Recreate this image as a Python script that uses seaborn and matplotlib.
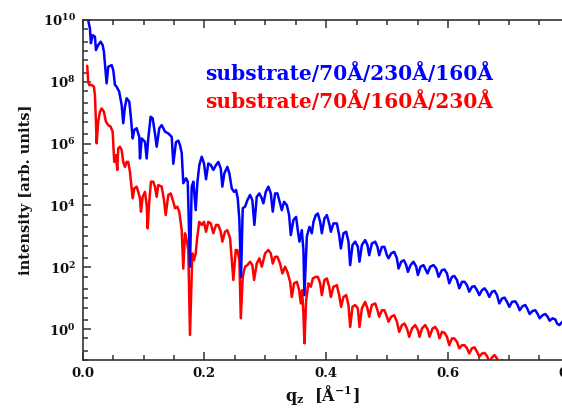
import numpy as np
import pandas as pd
import matplotlib
matplotlib.use('Agg')
import matplotlib.pyplot as plt
import matplotlib.ticker as mticker
import seaborn as sns

# --- data (q in 1/A, log10 of intensity) ---
blue_label = 'substrate/70Å/230Å/160Å'
red_label = 'substrate/70Å/160Å/230Å'

blue_q = [0.006, 0.009, 0.012, 0.0136, 0.0164, 0.0202, 0.0219, 0.0256, 0.0296, 0.0329,
          0.035, 0.0394, 0.0421, 0.0477, 0.0503, 0.0531, 0.0559, 0.0601, 0.0641, 0.0667,
          0.0695, 0.0723, 0.0766, 0.0789, 0.0822, 0.0848, 0.0887, 0.093, 0.0942, 0.097,
          0.1024, 0.1052, 0.1078, 0.1117, 0.115, 0.1188, 0.1216, 0.1259, 0.1298, 0.1353,
          0.1407, 0.1463, 0.1489, 0.1533, 0.1571, 0.1599, 0.1627, 0.1653, 0.1698, 0.1726,
          0.1763, 0.1791, 0.1818, 0.1857, 0.1883, 0.1916, 0.1956, 0.1993, 0.2026, 0.2064,
          0.2104, 0.2146, 0.2191, 0.2228, 0.2268, 0.2294, 0.2327, 0.2376, 0.2409, 0.2449,
          0.2486, 0.2519, 0.2547, 0.2574, 0.2601, 0.2629, 0.2667, 0.2705, 0.2749, 0.2787,
          0.282, 0.2859, 0.2902, 0.2942, 0.2968, 0.3007, 0.305, 0.309, 0.3122, 0.316,
          0.3198, 0.3242, 0.327, 0.3308, 0.3353, 0.339, 0.3418, 0.3461, 0.3505, 0.3533,
          0.356, 0.3599, 0.3625, 0.3642, 0.3681, 0.3724, 0.3763, 0.379, 0.3829, 0.3862,
          0.39, 0.3928, 0.397, 0.401, 0.4048, 0.4076, 0.4118, 0.4174, 0.4212, 0.424,
          0.4283, 0.4327, 0.4365, 0.4393, 0.4431, 0.4475, 0.4519, 0.4546, 0.4585, 0.4639,
          0.4677, 0.4705, 0.4749, 0.4804, 0.4841, 0.4869, 0.4914, 0.4956, 0.4996, 0.5022,
          0.5067, 0.5116, 0.516, 0.5187, 0.5231, 0.5275, 0.5313, 0.5341, 0.5384, 0.5433,
          0.5477, 0.5505, 0.5548, 0.5597, 0.5637, 0.5663, 0.5708, 0.5762, 0.5806, 0.5844,
          0.59, 0.5942, 0.5982, 0.602, 0.6064, 0.6102, 0.6146, 0.6184, 0.6229, 0.6271,
          0.6311, 0.6348, 0.6393, 0.6435, 0.6475, 0.6513, 0.6557, 0.66, 0.6639, 0.6677,
          0.6721, 0.6764, 0.6804, 0.6841, 0.6886, 0.6928, 0.6968, 0.7006, 0.705, 0.7104,
          0.7142, 0.7175, 0.7224, 0.7269, 0.7306, 0.7339, 0.7389, 0.7433, 0.7471, 0.7504,
          0.7553, 0.7597, 0.7635, 0.7668, 0.7717, 0.7762, 0.779, 0.7827, 0.7877, 0.7943]
blue_log = [10.6, 10.0, 9.73, 9.25, 9.51, 9.46, 9.03, 9.19, 9.30, 9.19,
            8.97, 7.95, 8.49, 8.54, 8.38, 7.90, 7.84, 7.68, 7.25, 6.66,
            7.19, 7.47, 7.36, 6.93, 6.17, 6.44, 6.50, 6.22, 5.52, 6.17,
            6.06, 5.52, 6.17, 6.87, 6.82, 6.33, 5.90, 6.50, 6.60, 6.39,
            6.33, 6.22, 5.35, 6.05, 6.10, 5.95, 5.70, 4.72, 4.88, 4.77,
            2.02, 4.61, 4.77, 3.85, 4.72, 5.31, 5.58, 5.36, 4.85, 5.36,
            5.31, 5.15, 5.31, 5.41, 5.20, 4.61, 5.04, 5.25, 5.04, 4.55,
            4.44, 4.50, 4.23, 3.53, 1.69, 3.91, 3.96, 4.17, 4.34, 4.17,
            3.37, 4.28, 4.39, 4.23, 4.07, 4.44, 4.61, 4.39, 3.80, 4.39,
            4.39, 4.07, 3.85, 4.12, 4.01, 3.69, 3.04, 3.53, 3.63, 3.20,
            2.83, 3.20, 2.56, 1.10, 2.99, 3.31, 3.10, 3.47, 3.69, 3.74,
            3.47, 3.10, 3.58, 3.69, 3.42, 3.15, 3.42, 3.42, 3.04, 2.61,
            3.10, 3.15, 2.83, 2.07, 2.72, 2.83, 2.66, 2.18, 2.72, 2.88,
            2.72, 2.39, 2.77, 2.83, 2.66, 2.39, 2.66, 2.66, 2.39, 2.29,
            2.45, 2.50, 2.29, 1.96, 2.18, 2.23, 2.07, 1.85, 2.07, 2.18,
            2.02, 1.75, 2.02, 2.07, 1.91, 1.80, 2.02, 2.07, 1.96, 1.69,
            1.91, 1.93, 1.80, 1.48, 1.69, 1.72, 1.59, 1.32, 1.53, 1.53,
            1.42, 1.21, 1.37, 1.39, 1.26, 1.10, 1.26, 1.32, 1.21, 1.04,
            1.21, 1.24, 1.10, 0.83, 0.99, 1.02, 0.88, 0.72, 0.88, 0.90,
            0.78, 0.61, 0.74, 0.78, 0.64, 0.49, 0.59, 0.61, 0.49, 0.35,
            0.45, 0.49, 0.40, 0.27, 0.35, 0.31, 0.18, 0.13, 0.24, 0.15]

red_q = [0.0076, 0.0092, 0.0108, 0.0148, 0.0186, 0.0202, 0.0219, 0.023, 0.0256, 0.0284,
         0.0312, 0.035, 0.0383, 0.0421, 0.046, 0.0493, 0.0503, 0.0519, 0.0547, 0.0569,
         0.0585, 0.0613, 0.0641, 0.0667, 0.0695, 0.0723, 0.0749, 0.0777, 0.0805, 0.0822,
         0.0848, 0.0887, 0.0914, 0.0942, 0.0958, 0.0986, 0.1024, 0.1052, 0.1068, 0.1094,
         0.1122, 0.116, 0.1188, 0.1216, 0.1242, 0.1298, 0.1336, 0.1364, 0.1407, 0.1446,
         0.1489, 0.1517, 0.1555, 0.1587, 0.1627, 0.1653, 0.1681, 0.1709, 0.1735, 0.1763,
         0.1801, 0.1829, 0.1857, 0.1883, 0.1916, 0.1956, 0.1993, 0.2026, 0.2064, 0.2104,
         0.2146, 0.2191, 0.2228, 0.2268, 0.2294, 0.2338, 0.2376, 0.2421, 0.2449, 0.2475,
         0.2514, 0.2541, 0.2574, 0.2597, 0.2629, 0.2667, 0.2705, 0.2749, 0.2787, 0.2815,
         0.2859, 0.2902, 0.2942, 0.2996, 0.305, 0.309, 0.3122, 0.316, 0.3198, 0.3242,
         0.328, 0.3324, 0.3362, 0.3407, 0.3434, 0.3472, 0.3517, 0.3555, 0.3583, 0.3604,
         0.3625, 0.3642, 0.367, 0.3707, 0.3747, 0.378, 0.3829, 0.3862, 0.39, 0.3928,
         0.397, 0.401, 0.4048, 0.4076, 0.4118, 0.4174, 0.4212, 0.4244, 0.4283, 0.4327,
         0.4365, 0.4393, 0.4431, 0.4475, 0.4519, 0.4546, 0.4585, 0.4639, 0.4677, 0.4705,
         0.4749, 0.4804, 0.4841, 0.4869, 0.4914, 0.4956, 0.4996, 0.5022, 0.5067, 0.5116,
         0.516, 0.5198, 0.5242, 0.5285, 0.5325, 0.5362, 0.5407, 0.546, 0.5505, 0.5532,
         0.5571, 0.5625, 0.567, 0.5696, 0.5745, 0.579, 0.5827, 0.586, 0.59, 0.5942,
         0.5982, 0.602, 0.6064, 0.6102, 0.6146, 0.6184, 0.6229, 0.6271, 0.6311, 0.6348,
         0.6393, 0.6435, 0.6475, 0.6513, 0.6557, 0.66, 0.6639, 0.6677, 0.6721, 0.6764,
         0.6804, 0.6841, 0.6886, 0.6924]
red_log = [8.52, 8.0, 7.90, 7.90, 7.84, 7.57, 6.71, 6.01, 6.71, 7.03,
           7.14, 7.03, 6.71, 6.60, 6.55, 6.39, 6.01, 5.41, 5.63, 5.15,
           5.85, 5.90, 5.79, 5.41, 5.25, 5.41, 5.41, 5.09, 4.55, 4.23,
           4.55, 4.61, 4.44, 4.23, 3.80, 4.28, 4.44, 4.01, 3.26, 4.12,
           4.77, 4.77, 4.61, 4.28, 4.66, 4.61, 4.17, 3.69, 4.34, 4.39,
           4.12, 3.91, 3.96, 3.80, 3.20, 1.96, 3.10, 2.88, 2.56, -0.19,
           2.45, 2.23, 2.45, 2.99, 3.47, 3.37, 3.47, 3.15, 3.47, 3.42,
           3.10, 3.37, 3.37, 3.15, 2.83, 3.15, 3.20, 2.94, 2.23, 1.59,
           2.56, 2.56, 2.23, 0.35, 1.69, 2.02, 2.07, 2.18, 2.07, 1.59,
           2.12, 2.29, 2.02, 2.45, 2.56, 2.45, 2.12, 2.34, 2.34, 2.12,
           1.80, 2.02, 1.85, 1.53, 1.04, 1.48, 1.53, 1.26, 0.83, 1.26,
           0.51, -0.46, 0.94, 1.48, 1.37, 1.64, 1.69, 1.69, 1.48, 1.10,
           1.59, 1.64, 1.37, 1.04, 1.37, 1.42, 1.10, 0.72, 1.04, 1.10,
           0.78, 0.07, 0.72, 0.78, 0.67, 0.07, 0.67, 0.88, 0.67, 0.40,
           0.78, 0.83, 0.61, 0.40, 0.61, 0.61, 0.40, 0.24, 0.40, 0.45,
           0.24, -0.09, 0.13, 0.18, 0.02, -0.25, 0.02, 0.13, -0.03, -0.25,
           0.02, 0.13, -0.03, -0.25, 0.02, 0.07, -0.05, -0.30, -0.09, -0.12,
           -0.25, -0.52, -0.30, -0.30, -0.41, -0.62, -0.52, -0.52, -0.62, -0.79,
           -0.62, -0.59, -0.73, -0.89, -0.79, -0.77, -0.87, -1.06, -0.92, -0.84,
           -0.95, -1.15, -1.0, -1.2]

x_ticks = [0.0, 0.2, 0.4, 0.6, 0.8]
y_label_exp = [0, 2, 4, 6, 8, 10]

blue_df = pd.DataFrame({'q': blue_q, 'I': 10.0 ** np.array(blue_log)})
red_df = pd.DataFrame({'q': red_q, 'I': 10.0 ** np.array(red_log)})

sns.set_theme(style='ticks')
plt.rcParams['font.family'] = ['DejaVu Serif']
plt.rcParams['mathtext.fontset'] = 'dejavuserif'

fig = plt.figure(figsize=(5.62, 4.08), dpi=100)
ax = fig.add_axes([0.147, 0.1176, 0.867, 0.8333])

# red first so the blue dips sit on top, as in the original
sns.lineplot(data=red_df, x='q', y='I', color='#ff0000', lw=1.8,
             estimator=None, sort=False, ax=ax)
sns.lineplot(data=blue_df, x='q', y='I', color='#0000ff', lw=1.8,
             estimator=None, sort=False, ax=ax)

ax.set_yscale('log')
ax.set_xlim(0, 0.8)
ax.set_ylim(1e-1, 1e10)

ax.xaxis.set_major_locator(mticker.FixedLocator(x_ticks))
ax.xaxis.set_major_formatter(mticker.FixedFormatter(['%.1f' % v for v in x_ticks]))
ax.xaxis.set_minor_locator(mticker.MultipleLocator(0.05))
ax.yaxis.set_major_locator(mticker.FixedLocator([10.0 ** e for e in y_label_exp]))
ax.yaxis.set_major_formatter(mticker.FixedFormatter(
    [r'$\mathbf{10^{%d}}$' % e for e in y_label_exp]))
ax.yaxis.set_minor_locator(mticker.LogLocator(base=10, subs=(1.0, 2.0, 5.0), numticks=30))
ax.yaxis.set_minor_formatter(mticker.NullFormatter())

ax.tick_params(which='both', direction='in', top=True, right=True,
               color='#333333', width=1.1)
ax.tick_params(which='major', length=6, pad=5, labelsize=9.5, labelcolor='#111111')
ax.tick_params(which='minor', length=3.3)
for lab in ax.get_xticklabels():
    lab.set_fontweight('bold')

for sp in ax.spines.values():
    sp.set_color('#333333')
    sp.set_linewidth(1.2)

ax.set_xlabel(r'$\mathbf{q_z}$  [Å$^{\mathbf{-1}}$]', fontsize=11.5, fontweight='bold',
              color='#111111')
ax.xaxis.set_label_coords(0.491, -0.068)
ax.set_ylabel('intensity [arb. units]', fontsize=10.5, fontweight='bold', color='#111111')
ax.yaxis.set_label_coords(-0.102, 0.5)

ax.text(0.251, 0.8235, blue_label, transform=ax.transAxes, color='#0000ff',
        fontsize=14.5, fontweight='bold', va='baseline', ha='left')
ax.text(0.251, 0.741, red_label, transform=ax.transAxes, color='#ff0000',
        fontsize=14.5, fontweight='bold', va='baseline', ha='left')

fig.savefig('out.png', dpi=100)
